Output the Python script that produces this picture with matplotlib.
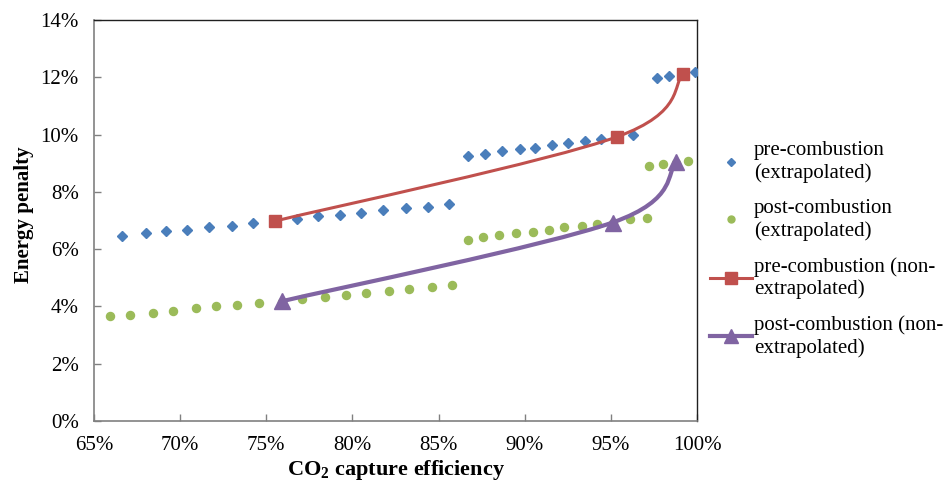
import numpy as np
import matplotlib
matplotlib.use("Agg")
import matplotlib.pyplot as plt
import matplotlib.ticker as mticker
from matplotlib.path import Path
from matplotlib.patches import PathPatch
from matplotlib.lines import Line2D

plt.rcParams["font.family"] = ["Liberation Serif", "DejaVu Serif"]
plt.rcParams["mathtext.fontset"] = "custom"
plt.rcParams["mathtext.rm"] = "Liberation Serif"
plt.rcParams["mathtext.bf"] = "Liberation Serif:bold"

# extrapolated series (capture efficiency %, energy penalty %)
pre_ext_x = [66.6, 68.0, 69.2, 70.4, 71.7, 73.0, 74.2, 75.5, 76.8, 78.0, 79.3, 80.5,
             81.8, 83.1, 84.4, 85.6, 86.7, 87.7, 88.7, 89.7, 90.6, 91.6, 92.5, 93.5,
             94.4, 95.4, 96.3, 97.7, 98.4, 99.2, 99.9]
pre_ext_y = [6.46, 6.56, 6.62, 6.68, 6.77, 6.82, 6.91, 6.98, 7.05, 7.14, 7.19, 7.26,
             7.36, 7.42, 7.47, 7.58, 9.26, 9.32, 9.41, 9.48, 9.53, 9.62, 9.69, 9.76,
             9.85, 9.92, 9.99, 11.97, 12.05, 12.12, 12.19]

post_ext_x = [65.9, 67.1, 68.4, 69.6, 70.9, 72.1, 73.3, 74.6, 75.9, 77.1, 78.4, 79.6,
              80.8, 82.1, 83.3, 84.6, 85.8, 86.7, 87.6, 88.5, 89.5, 90.5, 91.4, 92.3,
              93.3, 94.2, 95.1, 96.1, 97.1, 97.2, 98.0, 98.8, 99.5]
post_ext_y = [3.66, 3.71, 3.78, 3.84, 3.93, 4.00, 4.06, 4.12, 4.16, 4.26, 4.34, 4.40,
              4.46, 4.55, 4.62, 4.68, 4.74, 6.32, 6.41, 6.48, 6.55, 6.61, 6.67, 6.76,
              6.82, 6.89, 6.92, 7.04, 7.10, 8.90, 8.97, 9.02, 9.09]

# non-extrapolated series
pre_x = [75.5, 95.35, 99.2]
pre_y = [6.98, 9.92, 12.12]
post_x = [75.9, 95.1, 98.8]
post_y = [4.18, 6.93, 9.03]

labels = ["pre-combustion\n(extrapolated)", "post-combustion\n(extrapolated)",
          "pre-combustion (non-\nextrapolated)", "post-combustion (non-\nextrapolated)"]

BLUE = "#4A7EBB"
GREEN = "#9BBB59"
RED = "#C0504D"
PURPLE = "#8064A2"

XMIN, XMAX, YMIN, YMAX = 65, 100, 0, 14

fig = plt.figure(figsize=(9.44, 4.82), dpi=100)
ax = fig.add_axes([94 / 944, 61 / 482, 603 / 944, 401 / 482])
ax.set_xlim(XMIN, XMAX)
ax.set_ylim(YMIN, YMAX)


def smooth_path(xs, ys, w=603, h=401):
    # bezier smoothing like a spreadsheet "smoothed line", done in screen-like units
    sx = w / (XMAX - XMIN)
    sy = h / (YMAX - YMIN)
    p = np.column_stack([np.asarray(xs) * sx, np.asarray(ys) * sy])
    n = len(p)
    verts = [p[0]]
    codes = [Path.MOVETO]
    for i in range(n - 1):
        p0 = p[i - 1] if i > 0 else p[i]
        p3 = p[i + 2] if i + 2 < n else p[i + 1]
        c1 = p[i] + (p[i + 1] - p0) / 6
        c2 = p[i + 1] - (p3 - p[i]) / 6
        verts += [c1, c2, p[i + 1]]
        codes += [Path.CURVE4] * 3
    verts = np.array(verts)
    verts[:, 0] /= sx
    verts[:, 1] /= sy
    return Path(verts, codes)


ax.plot(pre_ext_x, pre_ext_y, linestyle="none", marker="D", ms=5.2,
        color=BLUE, mec=BLUE, zorder=3)
ax.plot(post_ext_x, post_ext_y, linestyle="none", marker="o", ms=5.8,
        color=GREEN, mec=GREEN, zorder=3)

ax.add_patch(PathPatch(smooth_path(pre_x, pre_y), fill=False, ec=RED, lw=2.2,
                       zorder=4, capstyle="round"))
ax.plot(pre_x, pre_y, linestyle="none", marker="s", ms=8.5, color=RED, zorder=5)

ax.add_patch(PathPatch(smooth_path(post_x, post_y), fill=False, ec=PURPLE, lw=3,
                       zorder=4, capstyle="round"))
ax.plot(post_x, post_y, linestyle="none", marker="^", ms=11, color=PURPLE, zorder=5)

ax.xaxis.set_major_locator(mticker.MultipleLocator(5))
ax.yaxis.set_major_locator(mticker.MultipleLocator(2))
ax.xaxis.set_major_formatter(mticker.FuncFormatter(lambda v, p: "%d%%" % round(v)))
ax.yaxis.set_major_formatter(mticker.FuncFormatter(lambda v, p: "%d%%" % round(v)))
ax.tick_params(direction="in", length=5, width=1, color="#808080", labelsize=15)
ax.tick_params(axis="y", pad=11)
ax.tick_params(axis="x", pad=11)
ax.tick_params(top=False, right=False)

for side in ["left", "bottom"]:
    ax.spines[side].set_color("#808080")
    ax.spines[side].set_linewidth(1.2)
for side in ["top", "right"]:
    ax.spines[side].set_color("#202020")
    ax.spines[side].set_linewidth(1)

ax.set_xlabel(r"CO$_\mathbf{2}$ capture efficiency", fontsize=16,
              fontweight="bold", labelpad=2)
ax.set_ylabel("Energy penalty", fontsize=15, fontweight="bold")
ax.yaxis.set_label_coords(-60 / 603, 0.515)

handles = [
    Line2D([], [], linestyle="none", marker="D", ms=4, color=BLUE),
    Line2D([], [], linestyle="none", marker="o", ms=5, color=GREEN),
    Line2D([], [], color=RED, lw=2.2, marker="s", ms=8, mec=RED),
    Line2D([], [], color=PURPLE, lw=3, marker="^", ms=10, mec=PURPLE),
]
fig.legend(handles, labels, loc="upper left", bbox_to_anchor=(710 / 944, 1 - 141 / 482),
           frameon=False, fontsize=15, handlelength=2.0, handletextpad=0.12,
           labelspacing=0.78, borderaxespad=0, borderpad=0)

fig.savefig("out.png", dpi=100)
